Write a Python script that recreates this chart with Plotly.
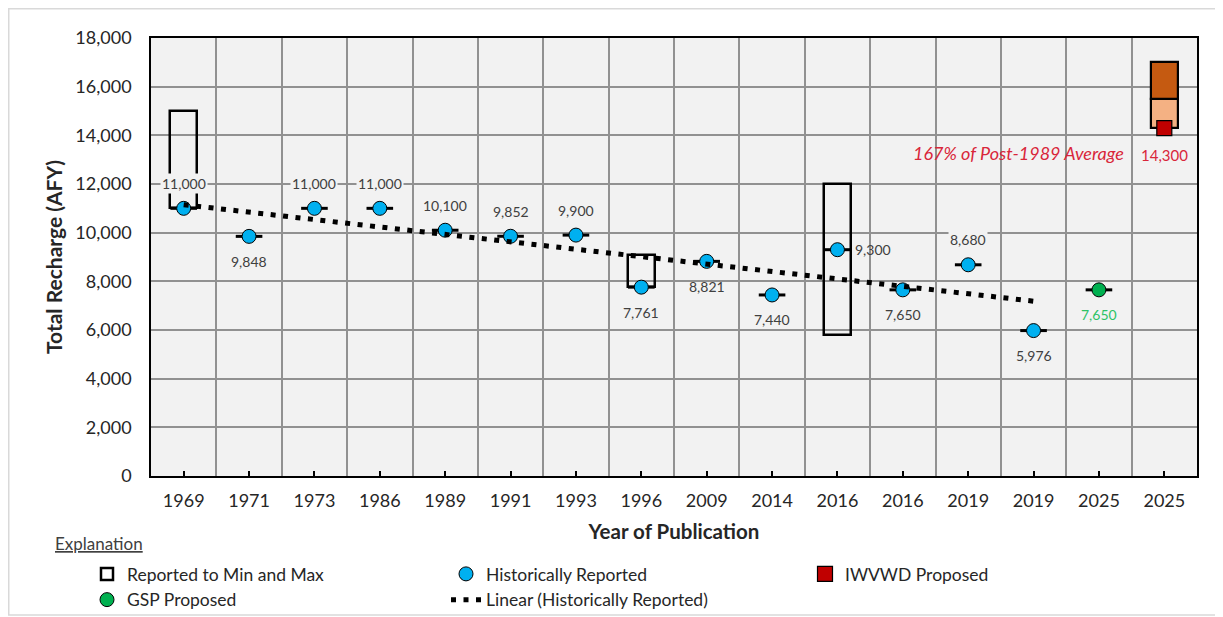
import numpy as np
import plotly.graph_objects as go

# ---------------- data ----------------
years = ["1969", "1971", "1973", "1986", "1989", "1991", "1993", "1996",
         "2009", "2014", "2016", "2016", "2019", "2019", "2025", "2025"]

hist_values = [11000, 9848, 11000, 11000, 10100, 9852, 9900, 7761,
               8821, 7440, 9300, 7650, 8680, 5976]
hist_label_pos = ["above", "below", "above", "above", "above", "above", "above", "below",
                  "below", "below", "right", "below", "above", "below"]

range_idx = [0, 7, 10]
range_min = [11000, 7761, 5800]
range_max = [15000, 9100, 12000]

gsp_idx = [14]
gsp_values = [7650]

iwvwd_idx = [15]
iwvwd_values = [14300]
iwvwd_band_low = [14300, 15500]
iwvwd_band_high = [15500, 17000]
iwvwd_band_colors = ["#F4B183", "#C55A11"]
iwvwd_note = "167% of Post-1989 Average"

# ---------------- styling ----------------
FONT = "Lato"
BLUE = "#00B0F0"
GREEN = "#00B050"
RED = "#C00000"
LABEL_RED = "#D9263A"
LABEL_GREEN = "#2EC266"
TXT = "#404040"
GRID = "#919191"
BAR_W = 0.41

# figure geometry (the page body adds an 8px offset)
W, H = 1215, 609
ML, MR, MT, MB = 143, 26, 30, 141
PW, PH = W - ML - MR, H - MT - MB


def px_x(px):
    return (px - ML) / PW


def px_y(py):
    return (H - MB - py) / PH


hist_idx = list(range(len(hist_values)))
fig = go.Figure()

# min/max boxes
fig.add_trace(go.Bar(
    x=range_idx, base=range_min, y=[hi - lo for lo, hi in zip(range_min, range_max)],
    width=BAR_W, marker=dict(color="rgba(0,0,0,0)", line=dict(color="black", width=2.5)),
    name="Reported to Min and Max", legendrank=1, hoverinfo="skip"))

# IWVWD proposed band
fig.add_trace(go.Bar(
    x=iwvwd_idx * len(iwvwd_band_low), base=iwvwd_band_low,
    y=[hi - lo for lo, hi in zip(iwvwd_band_low, iwvwd_band_high)],
    width=BAR_W, marker=dict(color=iwvwd_band_colors, line=dict(color="black", width=2.2)),
    showlegend=False, hoverinfo="skip"))

# short horizontal dashes through every point
all_idx = hist_idx + gsp_idx
all_vals = hist_values + gsp_values
fig.add_trace(go.Scatter(
    x=all_idx, y=all_vals, mode="markers",
    marker=dict(symbol="line-ew", size=19, line=dict(color="black", width=3)),
    showlegend=False, hoverinfo="skip"))

# historically reported
fig.add_trace(go.Scatter(
    x=hist_idx, y=hist_values, mode="markers", name="Historically Reported", legendrank=2,
    marker=dict(symbol="circle", size=14, color=BLUE, line=dict(color="black", width=1))))

# GSP proposed
fig.add_trace(go.Scatter(
    x=gsp_idx, y=gsp_values, mode="markers", name="GSP Proposed", legendrank=4,
    marker=dict(symbol="circle", size=14, color=GREEN, line=dict(color="black", width=1))))

# IWVWD proposed
fig.add_trace(go.Scatter(
    x=iwvwd_idx, y=iwvwd_values, mode="markers", name="IWVWD Proposed", legendrank=3,
    marker=dict(symbol="square", size=15, color=RED, line=dict(color="black", width=1.2))))

# linear trendline of the historically reported values
coef = np.polyfit(hist_idx, hist_values, 1)
trend_x = [hist_idx[0], hist_idx[-1]]
trend_y = list(np.polyval(coef, trend_x))
fig.add_trace(go.Scatter(
    x=trend_x, y=trend_y, mode="lines", name="Linear (Historically Reported)", legendrank=5,
    line=dict(color="black", width=5, dash="5px,7.5px"), hoverinfo="skip"))

# ---------------- data labels ----------------
annotations = []
for i, (v, pos) in enumerate(zip(hist_values, hist_label_pos)):
    a = dict(x=i, y=v, xref="x", yref="y", text=f"{v:,}", showarrow=False,
             font=dict(family=FONT, size=14, color=TXT))
    if pos == "above":
        a.update(yshift=25, bgcolor="#F2F2F2")
    elif pos == "below":
        a.update(yshift=-25)
    else:
        a.update(xanchor="left", xshift=16)
    annotations.append(a)

for i, v in zip(gsp_idx, gsp_values):
    annotations.append(dict(x=i, y=v, xref="x", yref="y", text=f"{v:,}", showarrow=False,
                            yshift=-25, font=dict(family=FONT, size=14, color=LABEL_GREEN)))
for i, v in zip(iwvwd_idx, iwvwd_values):
    annotations.append(dict(x=i, y=v, xref="x", yref="y", text=f"{v:,}", showarrow=False,
                            yshift=-27, font=dict(family=FONT, size=15, color=LABEL_RED)))
    annotations.append(dict(x=i - 0.59, y=v, xref="x", yref="y", text=f"<i>{iwvwd_note}</i>",
                            showarrow=False, xanchor="right", yshift=-25,
                            font=dict(family=FONT, size=18, color=LABEL_RED)))

annotations.append(dict(x=px_x(45), y=px_y(535), xref="paper", yref="paper",
                        xanchor="left", yanchor="middle", text="<u>Explanation</u>",
                        showarrow=False, font=dict(family=FONT, size=17, color=TXT)))

# light frame around the whole chart
shapes = [dict(type="rect", xref="paper", yref="paper",
               x0=px_x(0.75), x1=px_x(1213), y0=px_y(607), y1=px_y(0.75),
               line=dict(color="#D9D9D9", width=1.5),
               fillcolor="rgba(0,0,0,0)", layer="below")]

fig.update_layout(
    width=W, height=H,
    margin=dict(l=ML, r=MR, t=MT, b=MB, autoexpand=False),
    paper_bgcolor="white", plot_bgcolor="#F2F2F2",
    barmode="overlay", bargap=0,
    font=dict(family=FONT, size=17, color="#262626"),
    annotations=annotations, shapes=shapes,
    showlegend=True,
    legend=dict(orientation="h", x=px_x(79), xanchor="left", y=px_y(548), yanchor="top",
                entrywidth=314, entrywidthmode="pixels", tracegroupgap=0,
                font=dict(family=FONT, size=17.5, color="#262626"), bgcolor="rgba(0,0,0,0)",
                traceorder="normal"),
)

fig.update_xaxes(
    automargin=False,
    range=[-0.5, len(years) - 0.5],
    tickmode="array", tickvals=list(range(len(years))), ticktext=years,
    ticks="inside", ticklen=5, tickwidth=1.5, tickcolor="black",
    tickfont=dict(family=FONT, size=18, color="#262626"),
    ticklabelstandoff=8,
    showgrid=False, zeroline=False,
    showline=True, linecolor="black", linewidth=1.5, mirror=True,
    minor=dict(tickmode="linear", tick0=0.5, dtick=1, showgrid=True,
               gridcolor=GRID, gridwidth=1.8, ticks=""),
    title=dict(text="<b>Year of Publication</b>", standoff=14,
               font=dict(family=FONT, size=20.5, color="#262626")),
)

fig.update_yaxes(
    automargin=False,
    range=[0, 18000], dtick=2000, tickformat=",",
    tickfont=dict(family=FONT, size=18, color="#262626"),
    showgrid=True, gridcolor=GRID, gridwidth=1.8, zeroline=False,
    showline=True, linecolor="black", linewidth=1.5, mirror=True,
    ticks="", ticklabelstandoff=14,
    title=dict(text="<b>Total Recharge (AFY)</b>", standoff=7,
               font=dict(family=FONT, size=21, color="#262626")),
)

fig.write_html("out.html")
